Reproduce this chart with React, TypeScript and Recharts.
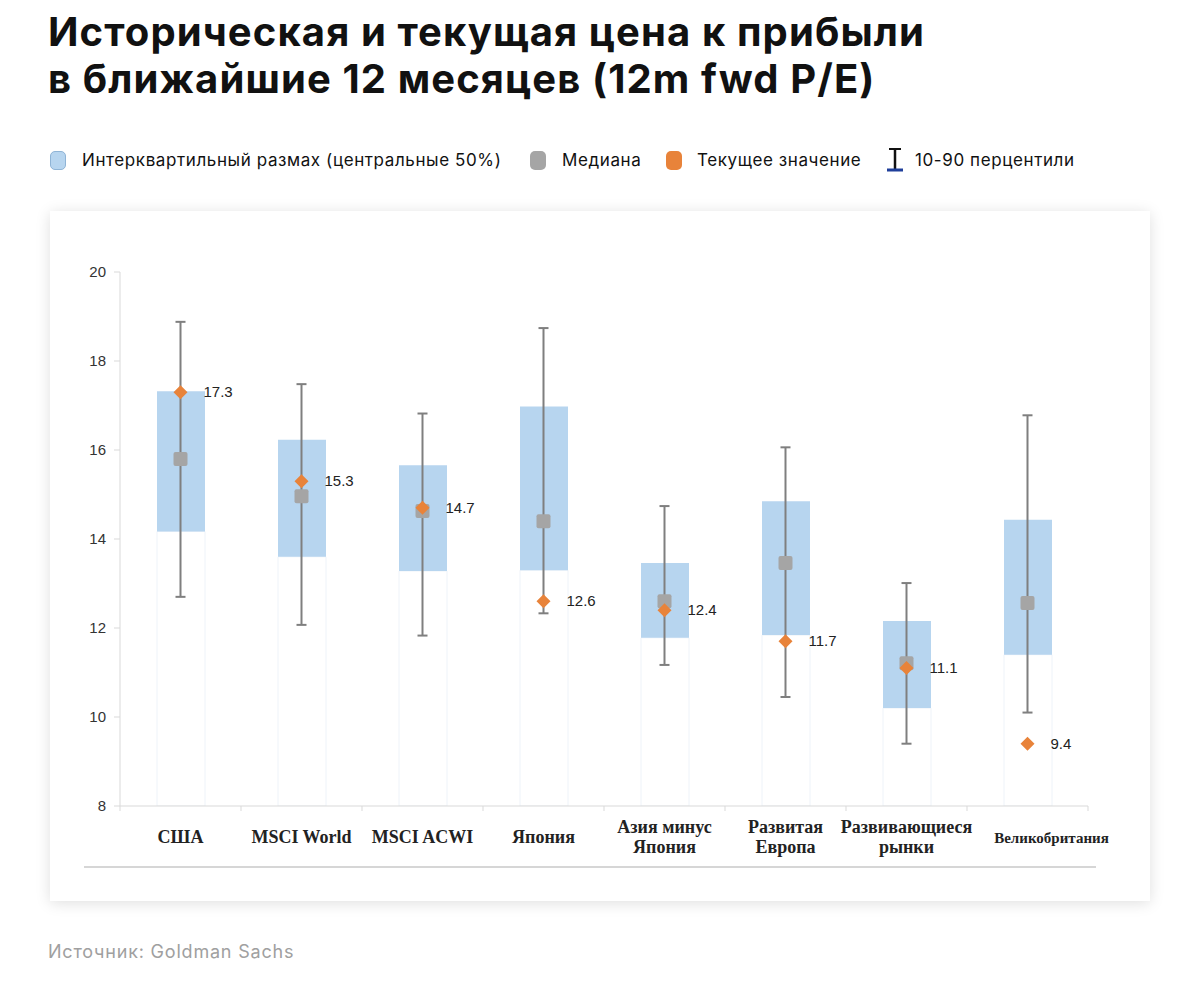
import { ComposedChart, Bar, Scatter, ErrorBar, XAxis, YAxis } from "recharts";

// categories (\n = line break in the axis label)
const categories = [
  "США",
  "MSCI World",
  "MSCI ACWI",
  "Япония",
  "Азия минус\nЯпония",
  "Развитая\nЕвропа",
  "Развивающиеся\nрынки",
  "Великобритания",
];

// 12m fwd P/E
const p10 = [12.7, 12.07, 11.83, 12.33, 11.17, 10.45, 9.4, 10.1];
const q1 = [14.17, 13.6, 13.28, 13.3, 11.78, 11.84, 10.2, 11.4];
const median = [15.8, 14.96, 14.63, 14.4, 12.6, 13.46, 11.21, 12.56];
const q3 = [17.32, 16.23, 15.66, 16.98, 13.46, 14.85, 12.16, 14.43];
const p90 = [18.88, 17.48, 16.82, 18.74, 14.74, 16.06, 13.01, 16.78];
const current = [17.3, 15.3, 14.7, 12.6, 12.4, 11.7, 11.1, 9.4];

const yTicks = [8, 10, 12, 14, 16, 18, 20];

const data = categories.map((name, i) => ({
  name,
  base: q1[i],
  box: q3[i] - q1[i],
  median: median[i],
  whisker: [median[i] - p10[i], p90[i] - median[i]],
  current: current[i],
}));

const CHART_W = 1100;
const CHART_H = 690;
const MARGIN = { top: 61, right: 62, left: 0, bottom: 35 };
const Y_W = 70;
const STEP = (CHART_W - MARGIN.left - MARGIN.right - Y_W) / categories.length;

const BLUE = "#b7d5ef";
const GRAY = "#a5a5a5";
const ORANGE = "#e8833a";
const SANS = "Inter, 'Noto Sans', sans-serif";
const SERIF = "'Liberation Serif', 'DejaVu Serif', serif";
const ARIAL = "'Liberation Sans', Arial, sans-serif";

const XTick = (props: any) => {
  const { x, y, payload, index } = props;
  const lines = String(payload.value).split("\n");
  const small = payload.value === "Великобритания";
  const first = lines.length > 1 ? 27 : 37;
  // the last label sits a bit right of its category in the original
  const tx = small ? x + 24 : x;
  return (
    <g>
      <line x1={x - STEP / 2} x2={x - STEP / 2} y1={y} y2={y + 5} stroke="#d9d9d9" />
      {index === categories.length - 1 && (
        <line x1={x + STEP / 2} x2={x + STEP / 2} y1={y} y2={y + 5} stroke="#d9d9d9" />
      )}
      <text
        x={tx}
        y={y + first}
        textAnchor="middle"
        fontFamily={SERIF}
        fontWeight={700}
        fontSize={small ? 15 : 18}
        fill="#222"
      >
        {lines.map((l, i) => (
          <tspan key={i} x={tx} dy={i === 0 ? 0 : 20}>
            {l}
          </tspan>
        ))}
      </text>
    </g>
  );
};

const MedianShape = (p: any) => (
  <rect x={p.cx - 7} y={p.cy - 7} width={14} height={14} rx={2} fill={GRAY} />
);

const CurrentShape = (p: any) => (
  <g>
    <polygon
      points={`${p.cx},${p.cy - 7} ${p.cx + 7},${p.cy} ${p.cx},${p.cy + 7} ${p.cx - 7},${p.cy}`}
      fill={ORANGE}
    />
    <text x={p.cx + 23} y={p.cy + 5} fontSize={15} fontFamily={ARIAL} fill="#222">
      {p.payload.current.toFixed(1)}
    </text>
  </g>
);

const Swatch = ({ left, color, border }: { left: number; color: string; border?: string }) => (
  <span
    style={{
      position: "absolute",
      left,
      top: 0,
      width: 16,
      height: 19,
      borderRadius: 5,
      background: color,
      border: border ? `1px solid ${border}` : "none",
      boxSizing: "border-box",
    }}
  />
);

const LegendText = ({ left, children }: { left: number; children: string }) => (
  <span style={{ position: "absolute", left, top: -1, whiteSpace: "nowrap", lineHeight: "21px" }}>
    {children}
  </span>
);

export default function App() {
  return (
    <div
      style={{
        position: "absolute",
        left: 0,
        top: 0,
        width: 1200,
        height: 1005,
        background: "#fff",
        fontFamily: SANS,
        color: "#111",
      }}
    >
      <div
        style={{
          position: "absolute",
          left: 48,
          top: 8,
          fontSize: 40,
          fontWeight: 700,
          lineHeight: "47px",
          letterSpacing: 1.1,
          whiteSpace: "nowrap",
        }}
      >
        Историческая и текущая цена к прибыли
        <br />
        в ближайшие 12 месяцев (12m fwd P/E)
      </div>

      <div style={{ position: "absolute", left: 0, top: 151, width: 1200, height: 21, fontSize: 17, letterSpacing: 0.6 }}>
        <Swatch left={50} color={BLUE} border="#8fb4d6" />
        <LegendText left={82}>Интерквартильный размах (центральные 50%)</LegendText>
        <Swatch left={530} color={GRAY} />
        <LegendText left={562}>Медиана</LegendText>
        <Swatch left={666} color={ORANGE} />
        <LegendText left={697}>Текущее значение</LegendText>
        <svg width={18} height={28} style={{ position: "absolute", left: 886, top: -5 }}>
          <line x1={3} x2={15} y1={3} y2={3} stroke="#111" strokeWidth={2} />
          <line x1={9} x2={9} y1={3} y2={24} stroke="#111" strokeWidth={2.5} />
          <line x1={1} x2={17} y1={24} y2={24} stroke="#1f3f9a" strokeWidth={3} />
        </svg>
        <LegendText left={915}>10-90 перцентили</LegendText>
      </div>

      <div
        style={{
          position: "absolute",
          left: 50,
          top: 211,
          width: CHART_W,
          height: CHART_H,
          background: "#fff",
          boxShadow: "0 2px 14px rgba(0,0,0,0.13)",
        }}
      >
        <ComposedChart width={CHART_W} height={CHART_H} data={data} margin={MARGIN}>
          <XAxis
            dataKey="name"
            interval={0}
            height={60}
            tickSize={0}
            tickMargin={0}
            axisLine={{ stroke: "#d9d9d9" }}
            tickLine={false}
            tick={<XTick />}
          />
          <YAxis
            domain={[8, 20]}
            ticks={yTicks}
            allowDataOverflow
            width={Y_W}
            tickSize={6}
            tickMargin={8}
            axisLine={{ stroke: "#d9d9d9" }}
            tickLine={{ stroke: "#d9d9d9" }}
            tick={{ fontSize: 15, fill: "#333", fontFamily: ARIAL }}
          />
          <Bar dataKey="base" stackId="b" barSize={48} fill="#fff" stroke="#eef3f9" isAnimationActive={false} />
          <Bar dataKey="box" stackId="b" barSize={48} fill={BLUE} isAnimationActive={false} />
          <Scatter dataKey="median" shape={() => <g />} isAnimationActive={false}>
            <ErrorBar dataKey="whisker" direction="y" width={5} stroke="#7f7f7f" strokeWidth={2} isAnimationActive={false} />
          </Scatter>
          <Scatter dataKey="median" shape={MedianShape} isAnimationActive={false} />
          <Scatter dataKey="current" shape={CurrentShape} isAnimationActive={false} />
        </ComposedChart>
        <div
          style={{
            position: "absolute",
            left: 34,
            top: 655,
            width: 1012,
            height: 2,
            background: "#d6d6d6",
          }}
        />
      </div>

      <div style={{ position: "absolute", left: 48, top: 941, fontSize: 18, letterSpacing: 0.8, color: "#a0a0a0" }}>
        Источник: Goldman Sachs
      </div>
    </div>
  );
}
